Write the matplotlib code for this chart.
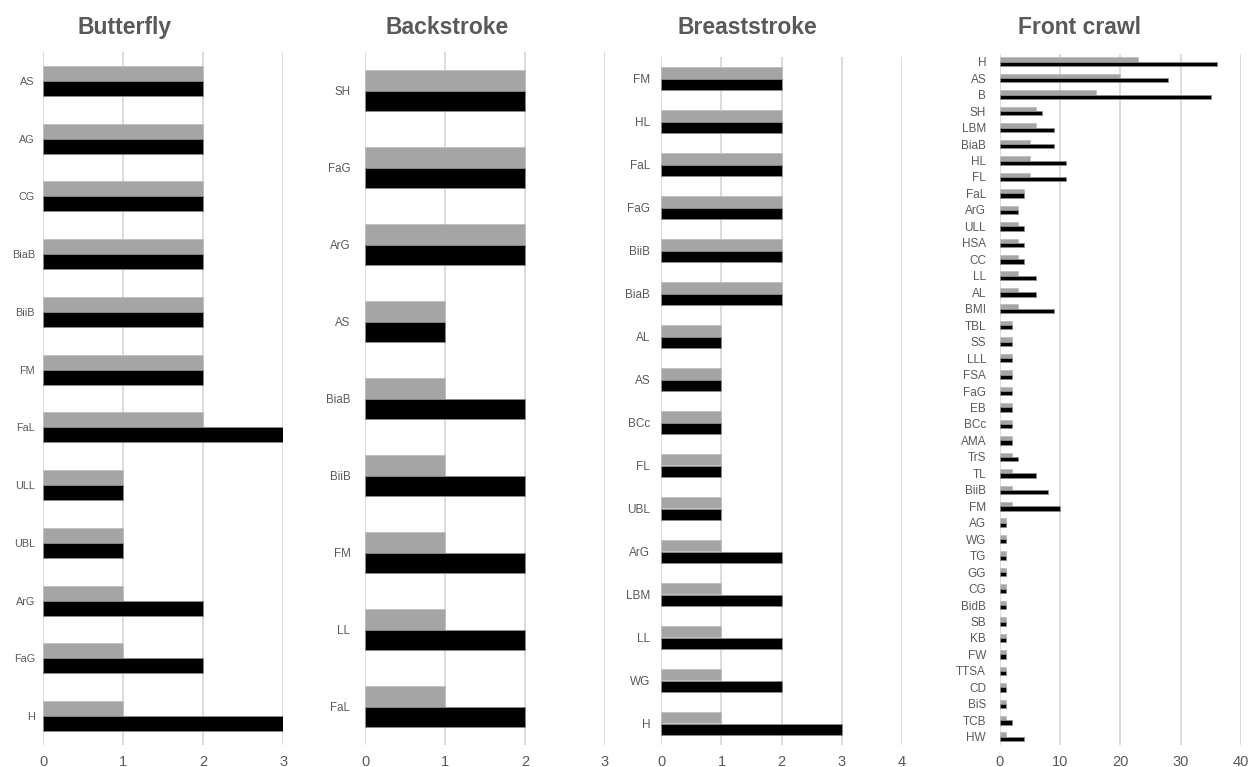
import numpy as np
import matplotlib
matplotlib.use("Agg")
import matplotlib.pyplot as plt

plt.rcParams["font.family"] = ["Liberation Sans", "DejaVu Sans"]

# 蝶泳
butterfly_labels = ["AS", "AG", "CG", "BiaB", "BiiB", "FM", "FaL", "ULL", "UBL", "ArG", "FaG", "H"]
butterfly_grey = [2, 2, 2, 2, 2, 2, 2, 1, 1, 1, 1, 1]
butterfly_black = [2, 2, 2, 2, 2, 2, 3, 1, 1, 2, 2, 3]

# 仰泳
backstroke_labels = ["SH", "FaG", "ArG", "AS", "BiaB", "BiiB", "FM", "LL", "FaL"]
backstroke_grey = [2, 2, 2, 1, 1, 1, 1, 1, 1]
backstroke_black = [2, 2, 2, 1, 2, 2, 2, 2, 2]

# 蛙泳
breaststroke_labels = ["FM", "HL", "FaL", "FaG", "BiiB", "BiaB", "AL", "AS", "BCc", "FL",
                       "UBL", "ArG", "LBM", "LL", "WG", "H"]
breaststroke_grey = [2, 2, 2, 2, 2, 2, 1, 1, 1, 1, 1, 1, 1, 1, 1, 1]
breaststroke_black = [2, 2, 2, 2, 2, 2, 1, 1, 1, 1, 1, 2, 2, 2, 2, 3]

# 自由泳
crawl_labels = ["H", "AS", "B", "SH", "LBM", "BiaB", "HL", "FL", "FaL", "ArG", "ULL", "HSA",
                "CC", "LL", "AL", "BMI", "TBL", "SS", "LLL", "FSA", "FaG", "EB", "BCc", "AMA",
                "TrS", "TL", "BiiB", "FM", "AG", "WG", "TG", "GG", "CG", "BidB", "SB", "KB",
                "FW", "TTSA", "CD", "BiS", "TCB", "HW"]
crawl_grey = [23, 20, 16, 6, 6, 5, 5, 5, 4, 3, 3, 3,
              3, 3, 3, 3, 2, 2, 2, 2, 2, 2, 2, 2,
              2, 2, 2, 2, 1, 1, 1, 1, 1, 1, 1, 1,
              1, 1, 1, 1, 1, 1]
crawl_black = [36, 28, 35, 7, 9, 9, 11, 11, 4, 3, 4, 4,
               4, 6, 6, 9, 2, 2, 2, 2, 2, 2, 2, 2,
               3, 6, 8, 10, 1, 1, 1, 1, 1, 1, 1, 1,
               1, 1, 1, 1, 2, 4]

W, H = 1249, 767
TEXT = "#595959"
GREY = "#a5a5a5"
GRID = "#d9d9d9"


def draw_panel(fig, box, title, title_x, labels, grey, black, xmax, step, ysize, ypad):
    """box: (left, top, right, bottom) 像素坐标"""
    l, t, r, b = box
    ax = fig.add_axes([l / W, 1 - b / H, (r - l) / W, (b - t) / H])
    n = len(labels)
    y = np.arange(n)
    h = 0.26
    ax.barh(y - h / 2, grey, height=h, color=GREY, edgecolor="#bfbfbf", linewidth=0.6, zorder=3)
    ax.barh(y + h / 2, black, height=h, color="black", edgecolor="#8c8c8c", linewidth=0.6, zorder=3)
    ax.set_ylim(n - 0.5, -0.5)
    ax.set_xlim(0, xmax)
    ax.set_xticks(np.arange(0, xmax + step / 2, step))
    ax.set_yticks(y)
    ax.set_yticklabels(labels)
    ax.grid(axis="x", color=GRID, linewidth=1.3, zorder=0)
    for s in ax.spines.values():
        s.set_visible(False)
    ax.tick_params(axis="both", length=0, colors=TEXT)
    ax.tick_params(axis="x", labelsize=10.5, pad=7)
    ax.tick_params(axis="y", labelsize=ysize, pad=ypad)
    fig.text(title_x / W, 1 - 34 / H, title, ha="center", va="baseline",
             fontsize=16.5, fontweight="bold", color=TEXT)
    return ax


fig = plt.figure(figsize=(W / 100, H / 100), dpi=100)

draw_panel(fig, (43.3, 52, 283.3, 745), "Butterfly", 125,
           butterfly_labels, butterfly_grey, butterfly_black, 3, 1, 7.8, 6)
draw_panel(fig, (365, 52, 605, 745), "Backstroke", 447,
           backstroke_labels, backstroke_grey, backstroke_black, 3, 1, 8.3, 10.5)
draw_panel(fig, (661.3, 57, 902, 745), "Breaststroke", 747,
           breaststroke_labels, breaststroke_grey, breaststroke_black, 4, 1, 8.5, 8)
draw_panel(fig, (1000, 53.5, 1240.7, 745), "Front crawl", 1080,
           crawl_labels, crawl_grey, crawl_black, 40, 10, 8.5, 10)

fig.savefig("out.png", dpi=100, facecolor="white")
